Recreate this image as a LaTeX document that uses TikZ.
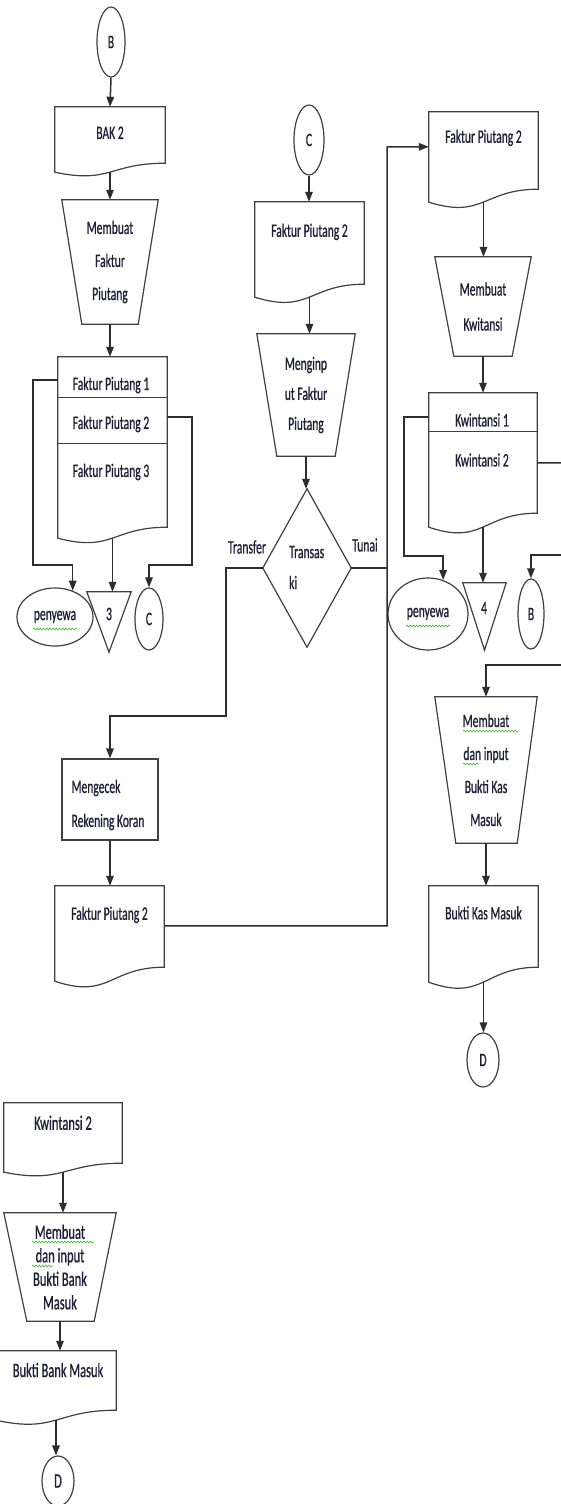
\documentclass[tikz,border=0pt]{standalone}
\usepackage{fontspec}
\newfontfamily\lblfont{Carlito}[FakeStretch=0.61,FakeBold=0.7]
\usetikzlibrary{shapes.geometric,calc,arrows.meta,decorations.pathmorphing}
\definecolor{ink}{rgb}{0.12,0.12,0.22}
\definecolor{edge}{rgb}{0.25,0.25,0.25}
\definecolor{wire}{rgb}{0.18,0.18,0.18}
\definecolor{sqg}{rgb}{0.35,0.72,0.25}
\newcommand\fsz[1]{\fontsize{19}{#1}\selectfont}
\newcommand\fszb[1]{\fontsize{20.5}{#1}\selectfont}
\newcommand\drawdoc[2]{\draw[shp] (#1.north west) -- (#1.north east) -- ($(#1.south east)+(0,-#2)$) .. controls ($(#1.south)+(0,-#2)$) and ($(#1.south)+(0,1.31*#2)$) .. (#1.south west) -- cycle;}
\newcommand\drawtrap[3]{\draw[shp] (#1.north west) -- (#1.north east) -- ($(#1.south east)+(-#3,0)$) -- ($(#1.south west)+(#2,0)$) -- cycle;}
\newcommand\drawtri[1]{\draw[shp] (#1.north west) -- (#1.north east) -- (#1.south) -- cycle;}
\begin{document}
\begin{tikzpicture}[x=1pt,y=-1pt,
  shp/.style={draw=edge, line width=1.2pt},
  ln/.style={draw=wire, line width=1.5pt},
  arr/.style={ln, -{Triangle[length=10pt,width=7.5pt]}},
  txt/.style={font=\lblfont\fsz{20}, text=ink, inner sep=0pt},
  bs/.style={font=\lblfont\fsz{#1}},
  bsb/.style={font=\lblfont\fszb{#1}},
  frame/.style n args={2}{minimum width=#1pt, minimum height=#2pt, inner sep=0pt, draw=none},
  ell/.style={txt, shp, ellipse},
  squig/.style={draw=sqg, line width=0.7pt, decorate, decoration={snake, amplitude=0.9pt, segment length=3.2pt}}]
\useasboundingbox (0,0) rectangle (560,1504);
\fill[white] (0,0) rectangle (560,1504);

% ---------- left column ----------
\node[ell, minimum width=28pt, minimum height=70pt] (b1) at (111,42) {B};
\node[frame={110}{65}] (bak) at (110,139.5) {};
\node[txt] (bak-t) at ($(bak.north)+(0,26)$) {BAK 2};
\node[frame={96}{124}, txt, align=center, bs=33] (trap1) at (110,262) {Membuat\\Faktur\\Piutang};
\node[frame={109}{181}] (fp123) at (112.5,447.5) {};
\node[txt] (fp1-t) at (111,385) {Faktur Piutang 1};
\node[txt] (fp2-t) at (111,424) {Faktur Piutang 2};
\node[txt] (fp3-t) at (111,472) {Faktur Piutang 3};
\node[frame={44}{60}] (tri3) at (109,622) {};
\node[txt] (tri3-t) at (109,614) {3};
\node[ell, minimum width=76pt, minimum height=58pt] (pen1) at (55,617) {penyewa};
\node[ell, minimum width=28pt, minimum height=62pt] (c1) at (149,619) {C};

% ---------- middle column ----------
\node[ell, minimum width=30pt, minimum height=70pt] (c2) at (309,140) {C};
\node[frame={109}{95}] (fp2a) at (309.5,249.5) {};
\node[txt] (fp2a-t) at ($(fp2a.north)+(0,30)$) {Faktur Piutang 2};
\node[frame={98}{122}, txt, align=center, bs=30] (trap2) at (306,395) {Menginp\\ut Faktur\\Piutang};
\node[frame={88}{158}] (dia) at (307,568) {};
\node[txt, anchor=west, align=left, bs=31] (dia-t) at (289,567.5) {Transas\\ki};
\node[txt] (lt) at (247,547) {Transfer};
\node[txt] (lu) at (365,545) {Tunai};
\node[frame={96}{81}, draw=edge, line width=1.2pt] (chk) at (110,799.5) {};
\node[txt, anchor=west, align=left, bs=34] (chk-t) at ($(chk.west)+(10,5.5)$) {Mengecek\\Rekening Koran};
\node[frame={109}{95}] (fp2b) at (109.5,933.5) {};
\node[txt] (fp2b-t) at ($(fp2b.north)+(0,29)$) {Faktur Piutang 2};
\coordinate (bus) at (387,147);

% ---------- right column ----------
\node[frame={109}{90}] (fpR) at (483.5,157) {};
\node[txt] (fpR-t) at ($(fpR.north)+(0,26)$) {Faktur Piutang 2};
\node[frame={96}{99}, txt, align=center, bs=35] (trap3) at (483,306.5) {Membuat\\Kwitansi};
\node[frame={108}{134}] (kw) at (483,460) {};
\node[txt] (kw1-t) at (482,420) {Kwintansi 1};
\node[txt] (kw2-t) at (482,460) {Kwintansi 2};
\node[frame={43}{67}] (tri4) at (484.5,616.5) {};
\node[txt] (tri4-t) at (484,608) {4};
\node[ell, minimum width=80pt, minimum height=72pt] (pen2) at (428,614) {penyewa};
\node[ell, minimum width=26pt, minimum height=70pt] (cb2) at (531,614) {B};
\node[frame={102}{146}, txt, align=center, bs=33] (trap4) at (486,770) {Membuat\\dan input\\Bukti Kas\\Masuk};
\node[frame={109}{96}] (bkm) at (483.5,934) {};
\node[txt] (bkm-t) at ($(bkm.north)+(0,27)$) {Bukti Kas Masuk};
\node[ell, minimum width=32pt, minimum height=54pt] (d1) at (483,1060) {D};
\coordinate (offA) at (566,463);
\coordinate (offB) at (566,555);
\coordinate (offC) at (566,665);

% ---------- bottom left ----------
\node[frame={118}{69}] (kw2) at (63,1137.5) {};
\node[txt, bsb=20] (kw2b-t) at ($(kw2.north)+(0,20)$) {Kwintansi 2};
\node[frame={112}{108}, txt, align=center, bsb=23.5] (trap5) at (60,1267) {Membuat\\dan input\\Bukti Bank\\Masuk};
\node[frame={120}{69}] (bbm) at (56,1385.5) {};
\node[txt, bsb=20] (bbm-t) at (58,1370) {Bukti Bank Masuk};
\node[ell, bsb=20, minimum width=32pt, minimum height=50pt] (d2) at (58,1481) {D};

% ---------- shape outlines ----------
\drawdoc{bak}{9}
\drawtrap{trap1}{20}{20}
\drawdoc{fp123}{11}
\draw[shp] ($(fp123.north west)+(0,41)$) -- ($(fp123.north east)+(0,41)$);
\draw[shp] ($(fp123.north west)+(0,87)$) -- ($(fp123.north east)+(0,87)$);
\drawtri{tri3}
\drawdoc{fp2a}{13}
\drawtrap{trap2}{20}{20}
\draw[shp] (dia.north) -- (dia.east) -- (dia.south) -- (dia.west) -- cycle;
\drawdoc{fp2b}{14}
\drawdoc{fpR}{13}
\drawtrap{trap3}{19}{19}
\drawdoc{kw}{14}
\draw[shp] ($(kw.north west)+(0,39)$) -- ($(kw.north east)+(0,39)$);
\drawtri{tri4}
\drawtrap{trap4}{21}{20}
\drawdoc{bkm}{15}
\drawdoc{kw2}{9}
\drawtrap{trap5}{23}{22}
\drawdoc{bbm}{10}

% ---------- connectors ----------
\draw[arr] (b1.south) -- (bak.north);
\draw[arr] (bak.south) -- (trap1.north);
\draw[arr] (trap1.south) -- (trap1.south |- fp123.north);
\draw[arr] ($(fp123.north west)+(0,23)$) -- ++(-25,0) -- ++(0,185) -| (pen1.56);
\draw[arr] (fp123.south) -- (fp123.south |- tri3.north);
\draw[arr] ($(fp123.north east)+(0,60)$) -- ++(25,0) -- ++(0,148) -| (c1.north);

\draw[arr] (c2.south) -- (c2.south |- fp2a.north);
\draw[arr] (fp2a.south) -- (fp2a.south |- trap2.north);
\draw[arr] (trap2.south) -- (trap2.south |- dia.north);
\draw[ln] ($(fp2a.north east)+(0,45)$) -- ($(fp2a.north east)+(0,45)$ -| bus);
\draw[arr] ($(fp2b.north east)+(0,40)$) -| (bus) -- ($(fpR.north west)+(0,35)$);
\draw[ln] (dia.east) -- (dia.east -| bus);
\draw[arr] (dia.west) -- ++(-37,0) -- ++(0,148) -| (chk.north);
\draw[arr] (chk.south) -- (chk.south |- fp2b.north);

\draw[arr] (fpR.south) -- (fpR.south |- trap3.north);
\draw[arr] (trap3.south) -- (trap3.south |- kw.north);
\draw[arr] ($(kw.north west)+(0,24)$) -- ++(-25,0) -- ++(0,139) -| (pen2.66);
\draw[arr] (kw.south) -- (kw.south |- tri4.north);
\draw[ln] ($(kw.north east)+(0,70)$) -- (offA);
\draw[arr] (offB) -| (cb2.north);
\draw[arr] (offC) -| (trap4.north);
\draw[arr] (trap4.south) -- (trap4.south |- bkm.north);
\draw[arr] (bkm.south) -- (bkm.south |- d1.north);

\draw[arr] (kw2.south) -- (kw2.south |- trap5.north);
\draw[arr] (trap5.south) -- (trap5.south |- bbm.north);
\draw[arr] (bbm.south) -- (bbm.south |- d2.north);

% ---------- spelling squiggles ----------
\draw[squig] ($(pen1.center)+(-22,12)$) -- ++(44,0);
\draw[squig] ($(pen2.center)+(-22,12)$) -- ++(44,0);
\draw[squig] ($(trap4.center)+(-23,-39)$) -- ++(55,0);
\draw[squig] ($(trap4.center)+(-23,-6)$) -- ++(16,0);
\draw[squig] ($(trap5.center)+(-28,-25)$) -- ++(62,0);
\draw[squig] ($(trap5.center)+(-28,-1)$) -- ++(21,0);
\end{tikzpicture}
\end{document}
